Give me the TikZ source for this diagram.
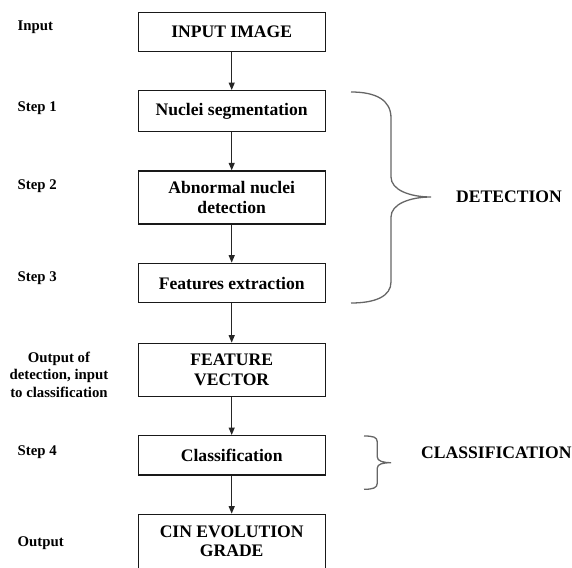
\documentclass[tikz,border=0pt]{standalone}
\usepackage{fontspec}
\setmainfont{Liberation Serif}
\usetikzlibrary{arrows.meta}
\tikzset{
  flowbox/.style={draw=black!90, line width=1.3pt, minimum width=187pt, inner sep=0pt,
    align=center, font=\bfseries\fontsize{17.6}{19.5}\selectfont},
  sidelabel/.style={anchor=west, inner sep=0pt, font=\bfseries\fontsize{14.8}{17.6}\selectfont},
  flowarrow/.style={draw=black!85, line width=1.2pt, -{Triangle[width=6pt,length=7.5pt]}},
  bracecurve/.style={draw=black!60, line width=1.3pt},
  groupname/.style={anchor=west, inner sep=0pt, font=\bfseries\fontsize{17.6}{19.5}\selectfont}
}
\begin{document}
\begin{tikzpicture}[x=1pt,y=-1pt]
\useasboundingbox (0,0) rectangle (572,567);
% boxes
\node[flowbox, minimum height=39.4pt] (in) at (231.7,32) {INPUT IMAGE};
\node[flowbox, minimum height=41pt] (s1) at (231.7,111.2) {Nuclei segmentation};
\node[flowbox, minimum height=53pt] (s2) at (231.7,197.5) {Abnormal nuclei\\detection};
\node[flowbox, minimum height=39.4pt] (s3) at (231.7,283) {Features extraction};
\node[flowbox, minimum height=53.4pt] (fv) at (231.7,370) {FEATURE\\VECTOR};
\node[flowbox, minimum height=39.3pt] (cl) at (231.7,455.3) {Classification};
\node[flowbox, minimum height=54pt] (cin) at (231.7,541.3) {CIN EVOLUTION\\GRADE};
% arrows
\draw[flowarrow] (in) -- (s1);
\draw[flowarrow] (s1) -- (s2);
\draw[flowarrow] (s2) -- (s3);
\draw[flowarrow] (s3) -- (fv);
\draw[flowarrow] (fv) -- (cl);
\draw[flowarrow] (cl) -- (cin);
% side labels
\node[sidelabel] (lin) at (17.5,27) {Input};
\node[sidelabel] (l1) at (17.5,108) {Step 1};
\node[sidelabel] (l2) at (17.5,186) {Step 2};
\node[sidelabel] (l3) at (17.5,278) {Step 3};
\node[sidelabel, anchor=center, align=center] (lo) at (59,374.5) {Output of\\detection, input\\to classification};
\node[sidelabel] (l4) at (17.5,452) {Step 4};
\node[sidelabel] (lout) at (17.5,543) {Output};
% braces
\draw[bracecurve] (351,92) .. controls (376,92) and (391,100) .. (391,118)
  -- (391,177) .. controls (391,190) and (410,197) .. (431,197)
  .. controls (410,197) and (391,204) .. (391,217)
  -- (391,282) .. controls (391,296) and (376,303) .. (351,303);
\node[groupname] (det) at (456,197) {DETECTION};
\draw[bracecurve] (364,436) .. controls (373,436) and (377.3,437) .. (377.3,442)
  -- (377.3,457) .. controls (377.3,461) and (383,462.7) .. (391,462.7)
  .. controls (383,462.7) and (377.3,464) .. (377.3,468)
  -- (377.3,483) .. controls (377.3,488) and (373,489.3) .. (364,489.3);
\node[groupname] (cls) at (421,452.3) {CLASSIFICATION};
\end{tikzpicture}
\end{document}
